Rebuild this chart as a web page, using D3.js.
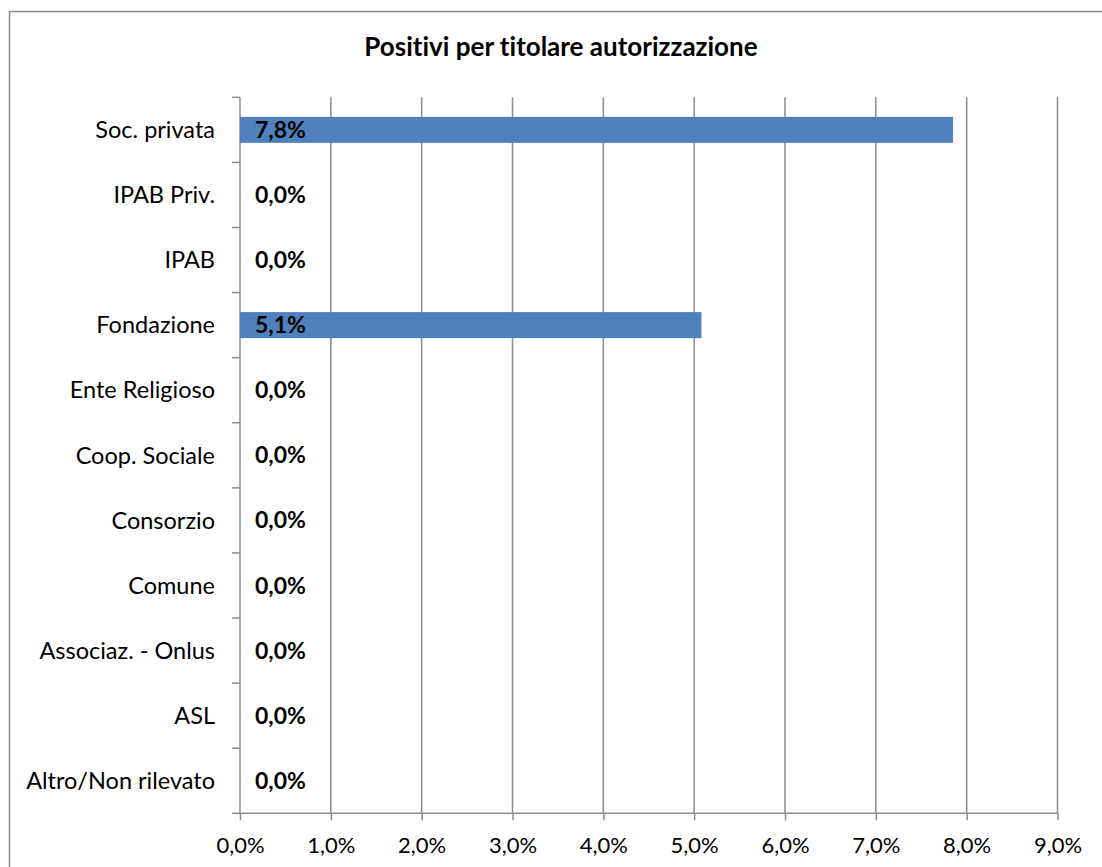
<!DOCTYPE html>
<html>
<head>
<meta charset="utf-8">
<script src="https://cdn.jsdelivr.net/npm/d3@7"></script>
<style>
  body { margin: 0; background: #fff; }
  svg { display: block; font-family: Lato, "Open Sans", sans-serif; font-variant-ligatures: none; }
  text { font-variant-ligatures: none; font-feature-settings: "liga" 0; }
  .tick text { fill: #000; }
</style>
</head>
<body>
<svg id="grafico"></svg>
<script>
  // dati
  let categorie = ['Soc. privata', 'IPAB Priv.', 'IPAB', 'Fondazione', 'Ente Religioso',
    'Coop. Sociale', 'Consorzio', 'Comune', 'Associaz. - Onlus', 'ASL', 'Altro/Non rilevato']
  let valori = [7.85, 0, 0, 5.08, 0, 0, 0, 0, 0, 0, 0]
  let etichette = ['7,8%', '0,0%', '0,0%', '5,1%', '0,0%', '0,0%', '0,0%', '0,0%', '0,0%', '0,0%', '0,0%']
  let ticksX = [0, 1, 2, 3, 4, 5, 6, 7, 8, 9]

  let dati = categorie.map((c, i) => ({chave: c, valor: valori[i], rotulo: etichette[i]}))

  let largura = 1102, altura = 867
  let margens = {esquerda: 240, direita: 44.5, superior: 97.3, inferior: 53.7}
  let larguraPlotagem = largura - margens.esquerda - margens.direita
  let alturaPlotagem = altura - margens.superior - margens.inferior

  let svg = d3.select('#grafico')
    .attr('width', largura)
    .attr('height', altura)

  // cornice
  svg.append('rect')
    .attr('x', 9.5).attr('y', 11.5)
    .attr('width', largura + 10).attr('height', altura + 10)
    .attr('fill', 'none').attr('stroke', '#8c8c8c').attr('stroke-width', 1.5)

  svg.append('text')
    .attr('x', 561).attr('y', 56)
    .attr('text-anchor', 'middle')
    .style('font-size', '26px').style('font-weight', 'bold')
    .text('Positivi per titolare autorizzazione')

  let plotagem = svg.append('g')
    .attr('transform', 'translate(' + margens.esquerda + ',' + margens.superior + ')')

  let fnX = d3.scaleLinear().domain([0, 9]).range([0, larguraPlotagem])
  let fnY = d3.scaleBand().domain(categorie).range([0, alturaPlotagem]).paddingInner(0.6).paddingOuter(0.3)
  let fnBanda = d3.scaleBand().domain(categorie).range([0, alturaPlotagem])

  // griglia verticale
  plotagem.append('g').selectAll('line').data(ticksX.slice(1)).enter().append('line')
    .attr('x1', d => fnX(d)).attr('x2', d => fnX(d))
    .attr('y1', 0).attr('y2', alturaPlotagem)
    .attr('stroke', '#8c8c8c').attr('stroke-width', 1.5)

  // asse X
  let eixoX = d3.axisBottom(fnX).tickValues(ticksX).tickSize(7).tickPadding(17)
    .tickFormat(d => d.toFixed(1).replace('.', ',') + '%')
  let gX = plotagem.append('g')
    .attr('transform', 'translate(0,' + alturaPlotagem + ')')
    .call(eixoX)
  gX.select('.domain').remove()
  gX.append('line').attr('x1', 0).attr('x2', larguraPlotagem)
    .attr('stroke', '#8c8c8c').attr('stroke-width', 1.5)
  gX.selectAll('.tick line').attr('stroke', '#8c8c8c').attr('stroke-width', 1.5)
  gX.selectAll('.tick text').style('font-size', '22px').style('font-family', 'Lato, sans-serif')

  // asse Y
  let gY = plotagem.append('g')
  gY.append('line').attr('x1', 0).attr('x2', 0).attr('y1', 0).attr('y2', alturaPlotagem)
    .attr('stroke', '#8c8c8c').attr('stroke-width', 1.5)
  gY.selectAll('.tacca').data(d3.range(categorie.length + 1)).enter().append('line')
    .attr('x1', -8).attr('x2', 0)
    .attr('y1', i => i * fnBanda.step()).attr('y2', i => i * fnBanda.step())
    .attr('stroke', '#8c8c8c').attr('stroke-width', 1.5)
  gY.selectAll('.cat').data(categorie).enter().append('text')
    .attr('x', -25)
    .attr('y', d => fnBanda(d) + fnBanda.bandwidth() / 2)
    .attr('dy', '0.35em')
    .attr('text-anchor', 'end')
    .style('font-size', '23.5px')
    .text(d => d)

  // barre
  plotagem.selectAll('.barra').data(dati).enter().append('rect')
    .attr('x', 0)
    .attr('y', d => fnY(d.chave))
    .attr('width', d => fnX(d.valor))
    .attr('height', fnY.bandwidth())
    .attr('fill', '#4f81bd')

  // etichette
  plotagem.selectAll('.rotulo').data(dati).enter().append('text')
    .attr('x', 15)
    .attr('y', d => fnBanda(d.chave) + fnBanda.bandwidth() / 2)
    .attr('dy', '0.35em')
    .style('font-size', '23px').style('font-weight', 'bold')
    .text(d => d.rotulo)
</script>
</body>
</html>
